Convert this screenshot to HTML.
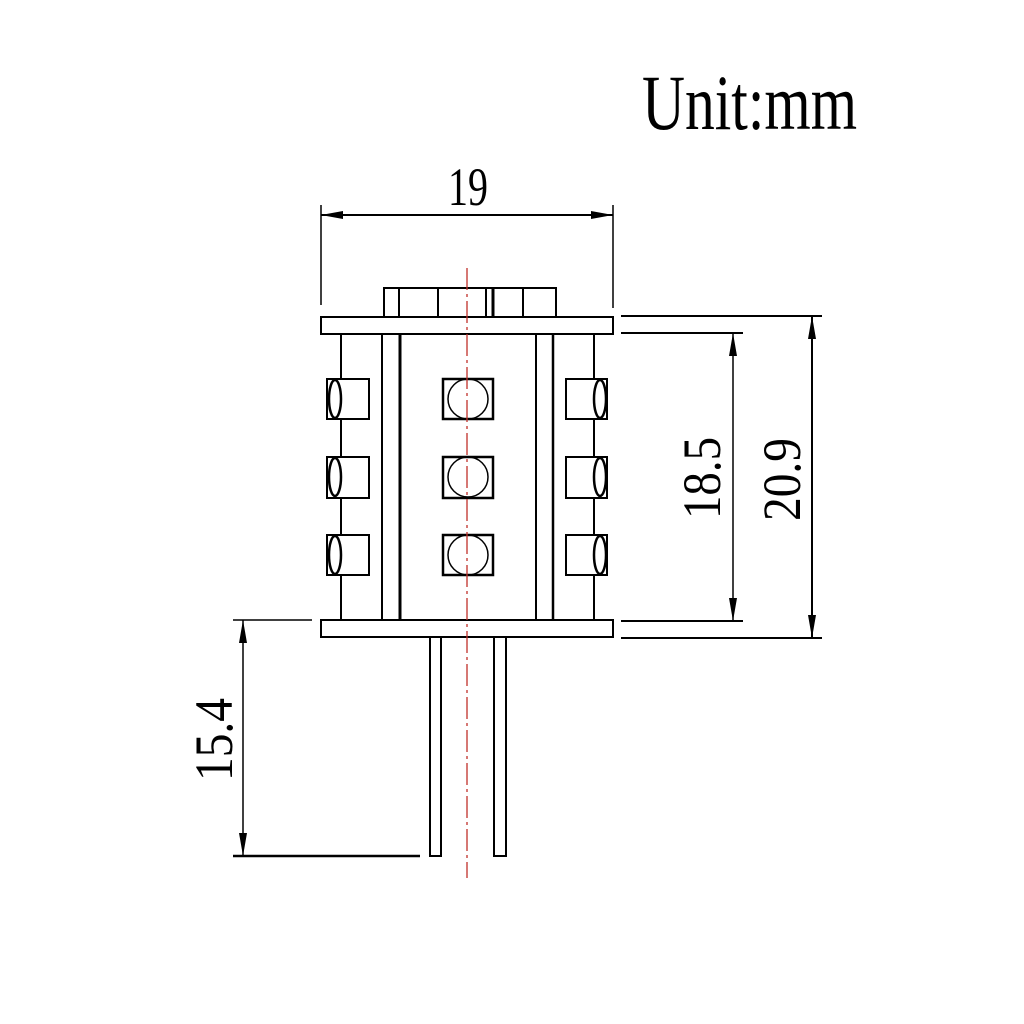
<!DOCTYPE html>
<html><head><meta charset="utf-8"><style>html,body{margin:0;padding:0;background:#fff}svg{display:block}</style></head>
<body>
<svg width="1024" height="1024" viewBox="0 0 1024 1024" xmlns="http://www.w3.org/2000/svg">
<rect width="1024" height="1024" fill="#fff"/>
<g fill="none" stroke="#000" stroke-width="2">
<!-- cap -->
<rect x="384" y="288" width="172" height="29"/>
<line x1="399" y1="288" x2="399" y2="317"/>
<line x1="438" y1="288" x2="438" y2="317"/>
<line x1="486" y1="288" x2="486" y2="317"/>
<line x1="493" y1="288" x2="493" y2="317" stroke-width="3"/>
<line x1="523" y1="288" x2="523" y2="317"/>
<!-- plates -->
<rect x="321" y="317" width="292" height="17"/>
<rect x="321" y="620" width="292" height="17"/>
<!-- body lines -->
<line x1="341" y1="334" x2="341" y2="620"/>
<line x1="382" y1="334" x2="382" y2="620"/>
<line x1="400" y1="334" x2="400" y2="620" stroke-width="3"/>
<line x1="536" y1="334" x2="536" y2="620"/>
<line x1="553" y1="334" x2="553" y2="620" stroke-width="2.5"/>
<line x1="594" y1="334" x2="594" y2="620"/>
<!-- LEDs -->
<g>
<rect x="327" y="379" width="42" height="40" fill="#fff"/><ellipse cx="335" cy="399" rx="6" ry="19" stroke-width="2.5"/>
<rect x="327" y="457" width="42" height="41" fill="#fff"/><ellipse cx="335" cy="477" rx="6" ry="19" stroke-width="2.5"/>
<rect x="327" y="535" width="42" height="40" fill="#fff"/><ellipse cx="335" cy="555" rx="6" ry="19" stroke-width="2.5"/>
<rect x="566" y="379" width="41" height="40" fill="#fff"/><ellipse cx="600" cy="399" rx="6" ry="19" stroke-width="2.5"/>
<rect x="566" y="457" width="41" height="41" fill="#fff"/><ellipse cx="600" cy="477" rx="6" ry="19" stroke-width="2.5"/>
<rect x="566" y="535" width="41" height="40" fill="#fff"/><ellipse cx="600" cy="555" rx="6" ry="19" stroke-width="2.5"/>
<rect x="443" y="379" width="50" height="40" stroke-width="2.5"/><circle cx="468" cy="399" r="20" stroke-width="1.5"/>
<rect x="443" y="457" width="50" height="41" stroke-width="2.5"/><circle cx="468" cy="477" r="20" stroke-width="1.5"/>
<rect x="443" y="535" width="50" height="40" stroke-width="2.5"/><circle cx="468" cy="555" r="20" stroke-width="1.5"/>
</g>
<!-- pins -->
<rect x="430" y="637" width="11" height="219"/>
<rect x="494" y="637" width="12" height="219"/>
<!-- dims -->
<line x1="321" y1="205" x2="321" y2="305" stroke-width="1.5"/>
<line x1="613" y1="205" x2="613" y2="308" stroke-width="1.5"/>
<line x1="321" y1="215" x2="613" y2="215"/>
<line x1="621" y1="316" x2="822" y2="316"/>
<line x1="621" y1="333" x2="743" y2="333"/>
<line x1="621" y1="621" x2="743" y2="621"/>
<line x1="621" y1="638" x2="822" y2="638"/>
<line x1="733" y1="333" x2="733" y2="621" stroke-width="1.5"/>
<line x1="812" y1="316" x2="812" y2="638"/>
<line x1="233" y1="620" x2="312" y2="620" stroke-width="1.5"/>
<line x1="233" y1="856" x2="420" y2="856" stroke-width="2.5"/>
<line x1="243" y1="620" x2="243" y2="856" stroke-width="1.5"/>
</g>
<g fill="#000">
<polygon points="321,215 343,211 343,219"/>
<polygon points="613,215 591,211 591,219"/>
<polygon points="733,333 729,356 737,356"/>
<polygon points="733,621 729,598 737,598"/>
<polygon points="812,316 808,339 816,339"/>
<polygon points="812,638 808,615 816,615"/>
<polygon points="243,620 239,643 247,643"/>
<polygon points="243,856 239,833 247,833"/>
</g>
<line x1="467" y1="268" x2="467" y2="878" stroke="#c0302a" stroke-width="1.3" stroke-dasharray="22,4,3,4"/>
<g font-family="'Liberation Serif', serif" fill="#000">
<text x="642" y="129" font-size="78" textLength="215" lengthAdjust="spacingAndGlyphs">Unit:mm</text>
<text x="448" y="205" font-size="54" textLength="40" lengthAdjust="spacingAndGlyphs">19</text>
<text transform="translate(720,519) rotate(-90)" font-size="54" textLength="82" lengthAdjust="spacingAndGlyphs">18.5</text>
<text transform="translate(800,521) rotate(-90)" font-size="54" textLength="83" lengthAdjust="spacingAndGlyphs">20.9</text>
<text transform="translate(232,781) rotate(-90)" font-size="54" textLength="83" lengthAdjust="spacingAndGlyphs">15.4</text>
</g>
</svg>
</body></html>
